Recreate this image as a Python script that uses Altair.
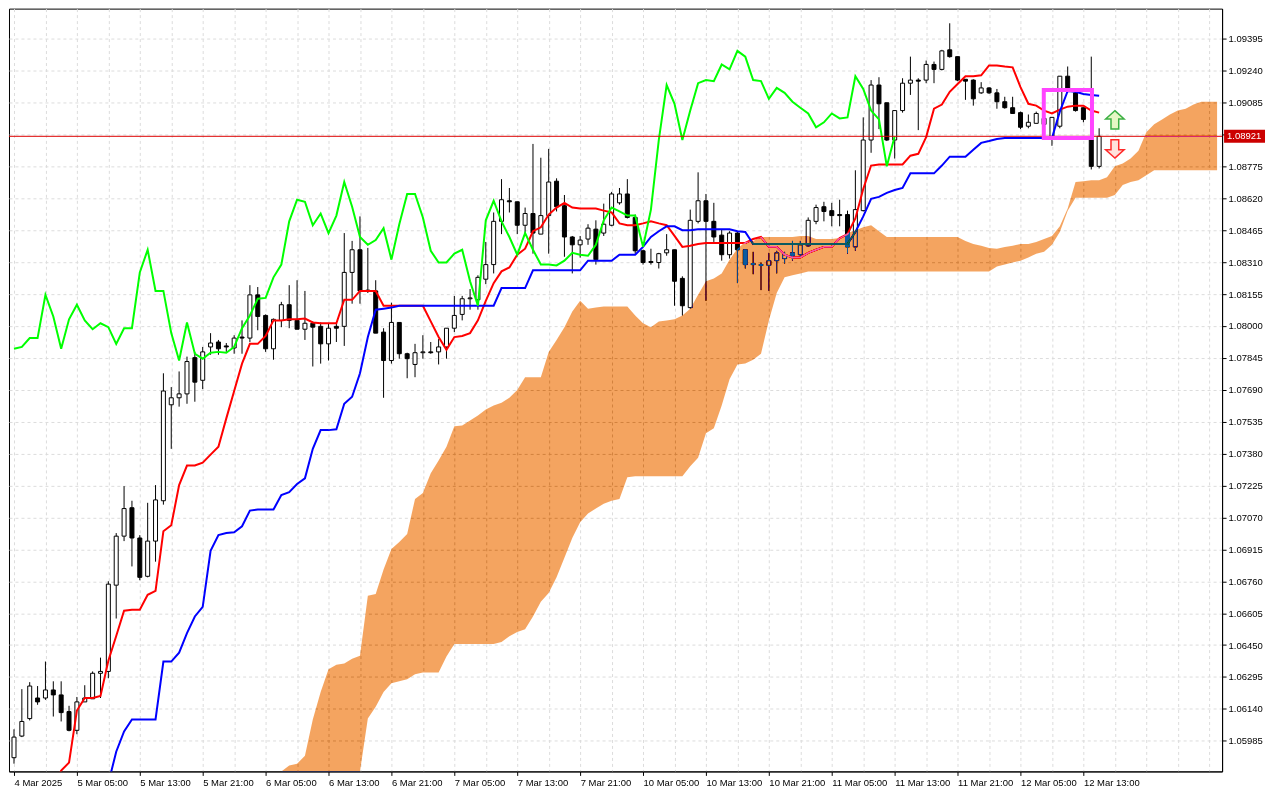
import altair as alt
import pandas as pd

# ---------------- data (EURUSD H1, Ichimoku) ----------------
opens = [1.05903, 1.06008, 1.06093, 1.06193, 1.06193, 1.06232, 1.06208, 1.06127, 1.06036, 1.06174,
         1.06189, 1.06313, 1.06322, 1.06741, 1.06979, 1.07117, 1.06970, 1.06784, 1.06955, 1.07151,
         1.07617, 1.07651, 1.07670, 1.07846, 1.07736, 1.07898, 1.07922, 1.07903, 1.07893, 1.07946,
         1.07941, 1.08151, 1.08051, 1.07889, 1.08027, 1.08103, 1.08027, 1.07984, 1.08013, 1.07998,
         1.07913, 1.07998, 1.07998, 1.08260, 1.08370, 1.08174, 1.08170, 1.07970, 1.07832, 1.08017,
         1.07865, 1.07813, 1.07870, 1.07874, 1.07874, 1.07898, 1.07989, 1.08056, 1.08132, 1.08127,
         1.08227, 1.08298, 1.08508, 1.08608, 1.08603, 1.08489, 1.08546, 1.08446, 1.08536, 1.08703,
         1.08584, 1.08432, 1.08394, 1.08422, 1.08470, 1.08451, 1.08489, 1.08598, 1.08641, 1.08527,
         1.08365, 1.08313, 1.08308, 1.08355, 1.08370, 1.08231, 1.08089, 1.08508, 1.08608, 1.08508,
         1.08441, 1.08346, 1.08451, 1.08370, 1.08303, 1.08298, 1.08294, 1.08317, 1.08327, 1.08355,
         1.08346, 1.08389, 1.08508, 1.08579, 1.08560, 1.08541, 1.08541, 1.08384, 1.08560, 1.08903,
         1.09170, 1.09084, 1.08903, 1.09046, 1.09179, 1.09194, 1.09194, 1.09270, 1.09246, 1.09341,
         1.09308, 1.09198, 1.09194, 1.09132, 1.09156, 1.09132, 1.09089, 1.09060, 1.09036, 1.08970,
         1.08984, 1.08979, 1.08917, 1.08970, 1.09213, 1.09132, 1.09060, 1.08908, 1.08775]
highs = [1.06041, 1.06236, 1.06270, 1.06251, 1.06370, 1.06274, 1.06274, 1.06155, 1.06198, 1.06255,
         1.06322, 1.06389, 1.06760, 1.06994, 1.07222, 1.07151, 1.06984, 1.07141, 1.07227, 1.07770,
         1.07703, 1.07779, 1.07851, 1.07874, 1.07898, 1.07965, 1.07932, 1.07917, 1.07955, 1.08027,
         1.08198, 1.08189, 1.08056, 1.08036, 1.08117, 1.08198, 1.08222, 1.08170, 1.08022, 1.08017,
         1.08013, 1.08017, 1.08451, 1.08413, 1.08532, 1.08379, 1.08222, 1.07989, 1.08113, 1.08017,
         1.07870, 1.07913, 1.07955, 1.07922, 1.07936, 1.07989, 1.08146, 1.08146, 1.08179, 1.08246,
         1.08408, 1.08551, 1.08713, 1.08670, 1.08603, 1.08575, 1.08884, 1.08817, 1.08860, 1.08717,
         1.08636, 1.08437, 1.08437, 1.08494, 1.08513, 1.08594, 1.08651, 1.08670, 1.08713, 1.08541,
         1.08370, 1.08375, 1.08355, 1.08446, 1.08370, 1.08241, 1.08565, 1.08746, 1.08641, 1.08598,
         1.08470, 1.08460, 1.08460, 1.08370, 1.08360, 1.08308, 1.08355, 1.08365, 1.08360, 1.08413,
         1.08413, 1.08527, 1.08589, 1.08603, 1.08598, 1.08613, 1.08560, 1.08756, 1.09013, 1.09194,
         1.09208, 1.09084, 1.09046, 1.09203, 1.09308, 1.09203, 1.09289, 1.09284, 1.09341, 1.09470,
         1.09308, 1.09198, 1.09198, 1.09184, 1.09160, 1.09151, 1.09113, 1.09113, 1.09041, 1.09027,
         1.09041, 1.09051, 1.09013, 1.09213, 1.09260, 1.09151, 1.09060, 1.09308, 1.08960]
lows = [1.05874, 1.06003, 1.06084, 1.06160, 1.06184, 1.06103, 1.06079, 1.06031, 1.06017, 1.06174,
        1.06189, 1.06193, 1.06289, 1.06579, 1.06955, 1.06832, 1.06765, 1.06779, 1.06855, 1.07132,
        1.07403, 1.07608, 1.07622, 1.07632, 1.07693, 1.07860, 1.07860, 1.07874, 1.07865, 1.07865,
        1.07922, 1.07979, 1.07874, 1.07836, 1.07994, 1.07989, 1.07984, 1.07932, 1.07803, 1.07817,
        1.07832, 1.07922, 1.07903, 1.08108, 1.08108, 1.08160, 1.07965, 1.07651, 1.07817, 1.07841,
        1.07746, 1.07751, 1.07841, 1.07865, 1.07813, 1.07841, 1.07970, 1.08027, 1.08079, 1.08079,
        1.08203, 1.08255, 1.08446, 1.08551, 1.08446, 1.08451, 1.08351, 1.08446, 1.08351, 1.08556,
        1.08336, 1.08255, 1.08332, 1.08394, 1.08298, 1.08437, 1.08484, 1.08589, 1.08522, 1.08351,
        1.08298, 1.08298, 1.08279, 1.08341, 1.08098, 1.08051, 1.08084, 1.08498, 1.08122, 1.08408,
        1.08317, 1.08327, 1.08208, 1.08279, 1.08251, 1.08174, 1.08170, 1.08255, 1.08303, 1.08317,
        1.08336, 1.08384, 1.08494, 1.08508, 1.08484, 1.08484, 1.08351, 1.08365, 1.08556, 1.08841,
        1.08956, 1.08898, 1.08813, 1.09036, 1.09122, 1.08951, 1.09179, 1.09179, 1.09241, 1.09303,
        1.09189, 1.09098, 1.09070, 1.09127, 1.09127, 1.09055, 1.09055, 1.09032, 1.08956, 1.08960,
        1.08984, 1.08946, 1.08875, 1.08960, 1.09146, 1.09041, 1.08989, 1.08760, 1.08765]
closes = [1.06003, 1.06079, 1.06251, 1.06174, 1.06232, 1.06208, 1.06122, 1.06036, 1.06174, 1.06193,
          1.06313, 1.06322, 1.06746, 1.06979, 1.07113, 1.06970, 1.06779, 1.06955, 1.07155, 1.07684,
          1.07651, 1.07670, 1.07827, 1.07727, 1.07874, 1.07917, 1.07889, 1.07898, 1.07941, 1.07941,
          1.08151, 1.08046, 1.07889, 1.08032, 1.08103, 1.08027, 1.07984, 1.08013, 1.07994, 1.07913,
          1.07989, 1.07989, 1.08260, 1.08370, 1.08170, 1.08170, 1.07965, 1.07832, 1.08017, 1.07865,
          1.07841, 1.07870, 1.07874, 1.07870, 1.07898, 1.07989, 1.08051, 1.08132, 1.08136, 1.08236,
          1.08298, 1.08508, 1.08613, 1.08603, 1.08489, 1.08546, 1.08451, 1.08536, 1.08699, 1.08579,
          1.08432, 1.08394, 1.08417, 1.08475, 1.08322, 1.08494, 1.08641, 1.08641, 1.08527, 1.08365,
          1.08308, 1.08308, 1.08351, 1.08370, 1.08217, 1.08098, 1.08513, 1.08608, 1.08508, 1.08432,
          1.08346, 1.08451, 1.08370, 1.08298, 1.08298, 1.08294, 1.08317, 1.08355, 1.08346, 1.08341,
          1.08394, 1.08513, 1.08575, 1.08556, 1.08536, 1.08536, 1.08384, 1.08565, 1.08903, 1.09170,
          1.09079, 1.08903, 1.09046, 1.09179, 1.09194, 1.09189, 1.09270, 1.09246, 1.09336, 1.09308,
          1.09194, 1.09189, 1.09103, 1.09156, 1.09132, 1.09089, 1.09060, 1.09032, 1.08965, 1.08989,
          1.09032, 1.09008, 1.09013, 1.09213, 1.09151, 1.09046, 1.09003, 1.08775, 1.08921]

# Tenkan-sen (red), first value at bar 5
TENKAN_FIRST_BAR = 5
tenkan = [1.05756, 1.05841, 1.05879, 1.06132, 1.06193, 1.06193, 1.06203, 1.06374, 1.06494, 1.06617,
          1.06622, 1.06622, 1.06694, 1.06713, 1.07003, 1.07032, 1.07227, 1.07322, 1.07322, 1.07336,
          1.07375, 1.07413, 1.07551, 1.07684, 1.07817, 1.07913, 1.07913, 1.07951, 1.08027, 1.08027,
          1.08032, 1.08032, 1.08036, 1.08017, 1.08013, 1.08013, 1.08013, 1.08127, 1.08127, 1.08170,
          1.08170, 1.08170, 1.08098, 1.08098, 1.08098, 1.08098, 1.08098, 1.08098, 1.08022, 1.07946,
          1.07884, 1.07946, 1.07951, 1.07965, 1.08027, 1.08122, 1.08208, 1.08265, 1.08284, 1.08346,
          1.08375, 1.08460, 1.08479, 1.08541, 1.08575, 1.08598, 1.08575, 1.08570, 1.08570, 1.08570,
          1.08560, 1.08551, 1.08498, 1.08489, 1.08489, 1.08498, 1.08508, 1.08498, 1.08489, 1.08437,
          1.08384, 1.08389, 1.08398, 1.08403, 1.08403, 1.08403, 1.08403, 1.08403, 1.08403, 1.08422,
          1.08432, 1.08384, 1.08384, 1.08346, 1.08332, 1.08332, 1.08355, 1.08370, 1.08384, 1.08384,
          1.08427, 1.08446, 1.08522, 1.08665, 1.08779, 1.08784, 1.08784, 1.08784, 1.08784, 1.08827,
          1.08836, 1.08917, 1.09055, 1.09075, 1.09137, 1.09175, 1.09213, 1.09213, 1.09217, 1.09265,
          1.09265, 1.09260, 1.09256, 1.09160, 1.09079, 1.09070, 1.09046, 1.09032, 1.09051, 1.09065,
          1.09070, 1.09070, 1.09046, 1.09036]

# Kijun-sen (blue), first value at bar 12
KIJUN_FIRST_BAR = 12
kijun = [1.05779, 1.05932, 1.06031, 1.06089, 1.06089, 1.06089, 1.06089, 1.06370, 1.06370, 1.06413,
         1.06508, 1.06589, 1.06636, 1.06908, 1.06984, 1.06994, 1.06998, 1.07027, 1.07103, 1.07108,
         1.07108, 1.07108, 1.07179, 1.07193, 1.07232, 1.07260, 1.07403, 1.07494, 1.07494, 1.07498,
         1.07622, 1.07656, 1.07770, 1.07946, 1.08079, 1.08084, 1.08089,
         1.08098, 1.08098, 1.08098, 1.08098, 1.08098, 1.08098, 1.08098, 1.08098, 1.08098, 1.08098,
         1.08098, 1.08098, 1.08098,
         1.08184, 1.08184, 1.08184, 1.08184,
         1.08270, 1.08270, 1.08270, 1.08270, 1.08270, 1.08270, 1.08270,
         1.08317, 1.08317, 1.08317, 1.08317,
         1.08346, 1.08346, 1.08346,
         1.08384, 1.08432, 1.08460, 1.08484, 1.08484, 1.08465, 1.08465,
         1.08470, 1.08470, 1.08470, 1.08470, 1.08470, 1.08460, 1.08456,
         1.08398, 1.08398, 1.08398, 1.08398, 1.08398, 1.08398, 1.08398, 1.08398, 1.08398, 1.08398,
         1.08398, 1.08398, 1.08398,
         1.08456, 1.08532, 1.08617, 1.08627, 1.08646, 1.08660, 1.08670,
         1.08741, 1.08741, 1.08741, 1.08741, 1.08779, 1.08822, 1.08822, 1.08822,
         1.08856, 1.08889, 1.08898, 1.08908,
         1.08913, 1.08913, 1.08913, 1.08913, 1.08913, 1.08913, 1.08913,
         1.09041, 1.09141, 1.09137, 1.09127, 1.09122, 1.09118]

# Senkou spans (the cloud), first value at bar 34; runs 26 bars past the last candle
CLOUD_FIRST_BAR = 34
span_a = [1.05818, 1.05865, 1.05874, 1.05913, 1.06089, 1.06222, 1.06332, 1.06355, 1.06360, 1.06384,
          1.06398, 1.06689, 1.06698, 1.06817, 1.06917, 1.06951, 1.06989, 1.07160, 1.07189, 1.07284,
          1.07346, 1.07413, 1.07513, 1.07517, 1.07541, 1.07565, 1.07594, 1.07613, 1.07627, 1.07651,
          1.07689, 1.07751, 1.07751, 1.07751, 1.07874, 1.07932, 1.07994, 1.08070, 1.08122, 1.08084,
          1.08089, 1.08094, 1.08094, 1.08094, 1.08094, 1.08051, 1.08013, 1.07994, 1.08022, 1.08027,
          1.08032, 1.08051, 1.08084, 1.08151, 1.08217, 1.08231, 1.08255, 1.08322, 1.08375, 1.08408,
          1.08413, 1.08432, 1.08432, 1.08432, 1.08432, 1.08432, 1.08437, 1.08437, 1.08422, 1.08422,
          1.08422, 1.08427, 1.08451, 1.08465, 1.08479, 1.08489, 1.08460,
          1.08432, 1.08432, 1.08432, 1.08432, 1.08432, 1.08432, 1.08432, 1.08432, 1.08432, 1.08432,
          1.08413, 1.08398, 1.08389, 1.08379, 1.08375, 1.08384, 1.08389, 1.08398, 1.08398, 1.08408,
          1.08422, 1.08437, 1.08484, 1.08570, 1.08699, 1.08703, 1.08708, 1.08708, 1.08722, 1.08775,
          1.08789, 1.08813, 1.08851, 1.08941, 1.08979, 1.09003, 1.09027, 1.09046, 1.09055, 1.09075,
          1.09089, 1.09089, 1.09089]
span_b = [1.05732, 1.05732, 1.05732, 1.05732, 1.05732, 1.05732, 1.05732, 1.05732, 1.05732, 1.05732,
          1.05779, 1.06093, 1.06151, 1.06222, 1.06265, 1.06274, 1.06284, 1.06308, 1.06317, 1.06317,
          1.06317, 1.06394, 1.06455, 1.06455, 1.06455, 1.06455, 1.06455, 1.06455, 1.06465, 1.06493,
          1.06513, 1.06527, 1.06589, 1.06660, 1.06703, 1.06779, 1.06874, 1.06970, 1.07046, 1.07089,
          1.07113, 1.07136, 1.07151, 1.07160, 1.07265,
          1.07270, 1.07270, 1.07270, 1.07270, 1.07270, 1.07270, 1.07270,
          1.07318, 1.07360, 1.07479, 1.07503, 1.07613, 1.07741, 1.07813, 1.07817, 1.07836, 1.07865,
          1.08027, 1.08160, 1.08236, 1.08246, 1.08255,
          1.08265, 1.08265, 1.08265, 1.08265, 1.08265, 1.08265, 1.08265, 1.08265, 1.08265, 1.08265,
          1.08265, 1.08265, 1.08265, 1.08265, 1.08265, 1.08265, 1.08265, 1.08265, 1.08265, 1.08265,
          1.08265, 1.08265, 1.08265, 1.08265,
          1.08289, 1.08298, 1.08308, 1.08317, 1.08332, 1.08351, 1.08360, 1.08394, 1.08456, 1.08560,
          1.08622, 1.08622, 1.08622, 1.08622, 1.08622,
          1.08636, 1.08684, 1.08699, 1.08708, 1.08732,
          1.08756, 1.08756, 1.08756, 1.08756, 1.08756, 1.08756, 1.08756, 1.08756, 1.08756]

CHIKOU_SHIFT = 26  # Chikou span = close plotted 26 bars back

price_ticks = [1.05985, 1.06140, 1.06295, 1.06450, 1.06605, 1.06760, 1.06915, 1.07070, 1.07225,
               1.07380, 1.07535, 1.07690, 1.07845, 1.08000, 1.08155, 1.08310, 1.08465, 1.08620,
               1.08775, 1.08930, 1.09085, 1.09240, 1.09395]
time_labels = ["4 Mar 2025", "5 Mar 05:00", "5 Mar 13:00", "5 Mar 21:00", "6 Mar 05:00",
               "6 Mar 13:00", "6 Mar 21:00", "7 Mar 05:00", "7 Mar 13:00", "7 Mar 21:00",
               "10 Mar 05:00", "10 Mar 13:00", "10 Mar 21:00", "11 Mar 05:00", "11 Mar 13:00",
               "11 Mar 21:00", "12 Mar 05:00", "12 Mar 13:00"]
LABEL_STEP = 8   # bars between time labels
GRID_STEP = 4    # bars between vertical grid lines
last_price = 1.08921

signal_box = {"bar0": 130.96, "bar1": 137.09, "top": 1.09146, "bottom": 1.08913}
arrow_bars = [140, 140]
arrow_prices = [1.09001, 1.08860]

# ---------------- tables ----------------
n = len(opens)
candles = pd.DataFrame({"bar": list(range(n)), "open": opens, "high": highs,
                        "low": lows, "close": closes})
candles["dir"] = ["up" if c >= o else "down" for o, c in zip(opens, closes)]

tenkan_df = pd.DataFrame({"bar": list(range(TENKAN_FIRST_BAR, TENKAN_FIRST_BAR + len(tenkan))),
                          "v": tenkan})
kijun_df = pd.DataFrame({"bar": list(range(KIJUN_FIRST_BAR, KIJUN_FIRST_BAR + len(kijun))),
                         "v": kijun})
cloud_df = pd.DataFrame({"bar": list(range(CLOUD_FIRST_BAR, CLOUD_FIRST_BAR + len(span_a))),
                         "a": span_a, "b": span_b})
chikou_df = pd.DataFrame({"bar": [b - CHIKOU_SHIFT for b in range(CHIKOU_SHIFT, n)],
                          "v": closes[CHIKOU_SHIFT:]})
price_df = pd.DataFrame({"price": [last_price]})
box_df = pd.DataFrame([signal_box])
up_df = pd.DataFrame({"bar": [arrow_bars[0]], "price": [arrow_prices[0]]})
dn_df = pd.DataFrame({"bar": [arrow_bars[1]], "price": [arrow_prices[1]]})

# ---------------- layout ----------------
W, H = 1215, 764
N_SLOTS = 153
Y_MIN, Y_MAX = 1.058364, 1.095412
FONT = "Liberation Sans"
FS = 9.5
GRID = "#dcdcdc"
LAST_LABEL_BAR = (len(time_labels) - 1) * LABEL_STEP

xs = alt.Scale(domain=[0, N_SLOTS], nice=False, zero=False)
ys = alt.Scale(domain=[Y_MIN, Y_MAX], nice=False, zero=False)

expr = "''"
for k in range(len(time_labels) - 1, -1, -1):
    expr = f"datum.value == {k * LABEL_STEP} ? '{time_labels[k]}' : ({expr})"

x_axis = alt.Axis(values=list(range(0, N_SLOTS, GRID_STEP)), grid=True, gridColor=GRID,
                  gridDash=[3, 3], labelExpr=expr, labelAlign="left",
                  labelBaseline="top", labelPadding=2, labelFont=FONT, labelFontSize=FS,
                  labelColor="black", tickColor="black", tickSize=4,
                  tickOpacity={"condition": {"test": f"datum.value % {LABEL_STEP} == 0 && "
                                                     f"datum.value <= {LAST_LABEL_BAR}",
                                             "value": 1}, "value": 0},
                  domainColor="black", title=None, labelOverlap=False, labelFlush=False,
                  labelBound=False)
y_axis = alt.Axis(orient="right", values=price_ticks, grid=True, gridColor=GRID, gridDash=[3, 3],
                  format=".5f", labelFont=FONT, labelFontSize=FS, labelColor="black",
                  labelPadding=2, tickColor="black", tickSize=4, domainColor="black",
                  title=None, labelOverlap=False, labelFlush=False)

X = lambda f: alt.X(f, scale=xs, axis=x_axis)
Y = lambda f: alt.Y(f, scale=ys, axis=y_axis)

wicks = alt.Chart(candles).mark_rule(color="black", strokeWidth=1, clip=True).encode(
    x=X("bar:Q"), y=Y("low:Q"), y2="high:Q")

bodies = alt.Chart(candles).mark_bar(width=4, stroke="black", strokeWidth=1, clip=True).encode(
    x=X("bar:Q"), y=Y("open:Q"), y2="close:Q",
    fill=alt.Fill("dir:N", scale=alt.Scale(domain=["up", "down"], range=["white", "black"]),
                  legend=None))

tenkan_line = alt.Chart(tenkan_df).mark_line(color="#ff0000", strokeWidth=2, clip=True).encode(
    x=X("bar:Q"), y=Y("v:Q"))
kijun_line = alt.Chart(kijun_df).mark_line(color="#0000ff", strokeWidth=2, clip=True).encode(
    x=X("bar:Q"), y=Y("v:Q"))
chikou_line = alt.Chart(chikou_df).mark_line(color="#00ff00", strokeWidth=2, clip=True).encode(
    x=X("bar:Q"), y=Y("v:Q"))

price_line = alt.Chart(price_df).mark_rule(color="#dd0000", strokeWidth=1).encode(y=Y("price:Q"))

# cloud drawn on top with a difference blend (inverted sandy brown -> sandy brown on white);
# not clipped (a clip group would isolate the blend), so the hidden part is held at the frame
cloud = alt.Chart(cloud_df).transform_calculate(
    a_vis=f"max(datum.a, {Y_MIN})", b_vis=f"max(datum.b, {Y_MIN})"
).mark_area(color="#0B5B9F", blend="difference", opacity=1).encode(
    x=X("bar:Q"), y=Y("a_vis:Q"), y2="b_vis:Q")

box = alt.Chart(box_df).mark_rect(fillOpacity=0, stroke="#ff44ff", strokeWidth=4).encode(
    x=X("bar0:Q"), x2="bar1:Q", y=Y("top:Q"), y2="bottom:Q")

UP = "M0,-1L1,-0.1L0.42,-0.1L0.42,1L-0.42,1L-0.42,-0.1L-1,-0.1Z"
DOWN = "M0,1L1,0.1L0.42,0.1L0.42,-1L-0.42,-1L-0.42,0.1L-1,0.1Z"
up_arrow = alt.Chart(up_df).mark_point(shape=UP, size=340, filled=True, fill="#e6f7c4",
                                       stroke="#3cb043", strokeWidth=1.5, opacity=1).encode(
    x=X("bar:Q"), y=Y("price:Q"))
dn_arrow = alt.Chart(dn_df).mark_point(shape=DOWN, size=340, filled=True, fill="#ffe2dc",
                                       stroke="#ff2a2a", strokeWidth=1.5, opacity=1).encode(
    x=X("bar:Q"), y=Y("price:Q"))

price_box = alt.Chart(price_df).mark_rule(color="#cc0000", strokeWidth=13, clip=False).encode(
    x=alt.value(W + 2), x2=alt.value(W + 43), y=Y("price:Q"))
price_text = alt.Chart(price_df).mark_text(align="left", baseline="middle", color="white",
                                           font=FONT, fontSize=FS).encode(
    x=alt.value(W + 5), y=Y("price:Q"), text=alt.Text("price:Q", format=".5f"))

chart = alt.layer(wicks, bodies, tenkan_line, kijun_line, chikou_line, price_line, cloud,
                  box, up_arrow, dn_arrow, price_box, price_text).properties(
    width=W, height=H, padding=0, background="white"
).configure_view(stroke="black", strokeWidth=1, fill="white")

chart.save("out.html", embed_options={"renderer": "svg", "actions": False})
